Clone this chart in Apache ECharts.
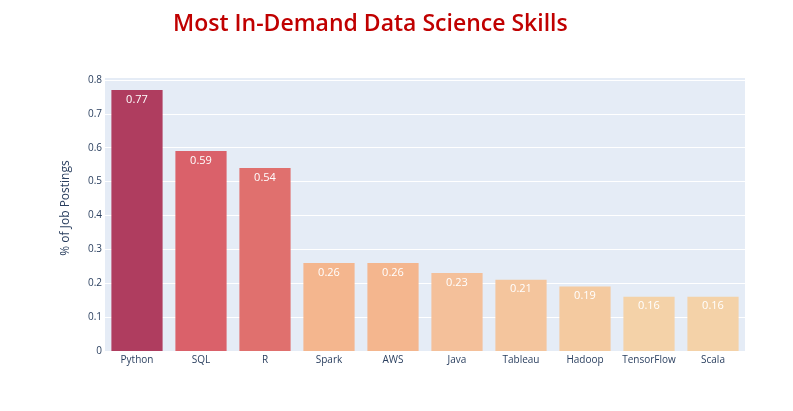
<!DOCTYPE html>
<html>
<head>
<meta charset="utf-8">
<script src="https://cdn.jsdelivr.net/npm/echarts@6/dist/echarts.min.js"></script>
<style>
  html, body { margin: 0; padding: 0; background: #fff; }
  #main { width: 793px; height: 411px; }
</style>
</head>
<body>
<div id="main"></div>
<script>
const skills = ["Python", "SQL", "R", "Spark", "AWS", "Java", "Tableau", "Hadoop", "TensorFlow", "Scala"];
const shares = [0.77, 0.59, 0.54, 0.26, 0.26, 0.23, 0.21, 0.19, 0.16, 0.16];
const barColors = ["#af3d5f", "#da616a", "#e0706e", "#f4b68e", "#f4b68e", "#f4c09a", "#f4c59d", "#f4caa0", "#f4d2a8", "#f4d2a8"];

let myChart = echarts.init(document.getElementById("main"));
let option = {
  backgroundColor: "#fff",
  animation: false,
  title: {
    text: "Most In-Demand Data Science Skills",
    left: 168,
    top: 8,
    textStyle: {
      color: "#c00000",
      fontFamily: "Open Sans",
      fontSize: 23,
      fontWeight: 600
    }
  },
  grid: {
    left: 105,
    right: 48,
    top: 77,
    bottom: 60,
    show: true,
    backgroundColor: "#e5ecf6",
    borderWidth: 0
  },
  xAxis: {
    type: "category",
    data: skills,
    axisLine: { show: false },
    axisTick: { show: false },
    axisLabel: {
      interval: 0,
      color: "#2a3f5f",
      fontFamily: "Open Sans",
      fontSize: 10,
      margin: 4
    }
  },
  yAxis: {
    type: "value",
    min: 0,
    max: 0.8085,
    interval: 0.1,
    name: "% of Job Postings",
    nameLocation: "middle",
    nameGap: 33,
    nameTextStyle: {
      color: "#2a3f5f",
      fontFamily: "Open Sans",
      fontSize: 12,
      padding: [0, 0, 0, 12]
    },
    axisLine: { show: false },
    axisTick: { show: false },
    axisLabel: {
      color: "#2a3f5f",
      fontFamily: "Open Sans",
      fontSize: 10,
      margin: 3,
      showMaxLabel: false,
      formatter: v => (Math.round(v * 10) / 10).toString()
    },
    splitLine: {
      lineStyle: { color: "#ffffff", width: 1 }
    }
  },
  series: [
    {
      type: "bar",
      barCategoryGap: "20%",
      data: shares.map((v, i) => {
        return { value: v, itemStyle: { color: barColors[i] } };
      }),
      label: {
        show: true,
        position: "insideTop",
        distance: 4,
        color: "#ffffff",
        fontFamily: "Open Sans",
        fontSize: 11
      }
    }
  ]
};
myChart.setOption(option);
</script>
</body>
</html>
